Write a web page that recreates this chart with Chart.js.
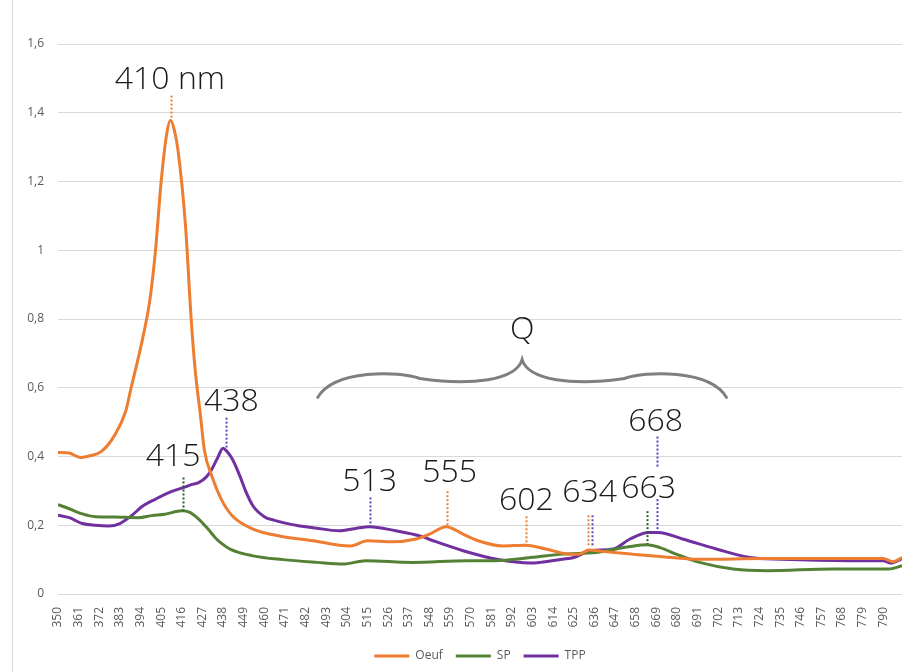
<!DOCTYPE html>
<html>
<head>
<meta charset="utf-8">
<script src="https://cdn.jsdelivr.net/npm/chart.js@4.4.1/dist/chart.umd.min.js"></script>
<style>
  html, body { margin: 0; padding: 0; background: #fff; }
  #wrap { width: 902px; height: 672px; position: relative; }
</style>
</head>
<body>
<div id="wrap"><canvas id="c"></canvas></div>
<script>
// wavelength (nm) shown on the category axis
const xTicks = [350, 361, 372, 383, 394, 405, 416, 427, 438, 449, 460, 471, 482, 493, 504,
  515, 526, 537, 548, 559, 570, 581, 592, 603, 614, 625, 636, 647, 658, 669, 680, 691,
  702, 713, 724, 735, 746, 757, 768, 779, 790];
const yTicks = [0, 0.2, 0.4, 0.6, 0.8, 1, 1.2, 1.4, 1.6];

// Oeuf
const oeufNm  = [350, 356, 362, 367, 373, 380, 386, 389, 395, 399, 402, 405, 408, 410, 412, 414, 418, 421, 423, 426, 428, 432, 437, 443, 454, 468, 486, 500, 506, 515, 528, 541, 548, 557, 566, 574, 587, 599, 610, 623, 628, 633, 640, 656, 671, 692, 728, 763, 790, 795, 800];
const oeufAbs = [0.412, 0.410, 0.397, 0.402, 0.414, 0.460, 0.530, 0.600, 0.740, 0.856, 1.000, 1.200, 1.340, 1.378, 1.350, 1.290, 1.070, 0.800, 0.660, 0.517, 0.420, 0.343, 0.276, 0.227, 0.189, 0.169, 0.155, 0.142, 0.140, 0.155, 0.152, 0.160, 0.174, 0.196, 0.174, 0.155, 0.140, 0.142, 0.131, 0.116, 0.116, 0.128, 0.124, 0.116, 0.109, 0.101, 0.103, 0.103, 0.103, 0.094, 0.106];

// SP
const spNm  = [350, 356, 363, 370, 380, 393, 400, 407, 416, 420, 425, 430, 434, 437, 442, 454, 470, 488, 502, 514, 539, 568, 583, 602, 619, 637, 655, 664, 671, 680, 692, 710, 728, 763, 793, 800];
const spAbs = [0.260, 0.248, 0.233, 0.225, 0.224, 0.222, 0.228, 0.232, 0.242, 0.238, 0.218, 0.189, 0.163, 0.148, 0.130, 0.111, 0.100, 0.092, 0.087, 0.097, 0.092, 0.097, 0.097, 0.106, 0.116, 0.121, 0.138, 0.143, 0.135, 0.115, 0.092, 0.073, 0.068, 0.073, 0.073, 0.082];

// TPP
const tppNm  = [350, 356, 363, 370, 377, 383, 389, 395, 402, 410, 417, 421, 425, 429, 432, 435, 438, 440, 443, 447, 450, 454, 460, 465, 479, 486, 500, 508, 516, 530, 543, 550, 566, 584, 602, 607, 619, 625, 634, 646, 655, 665, 670, 683, 701, 719, 736, 772, 790, 794, 800];
const tppAbs = [0.229, 0.222, 0.205, 0.200, 0.198, 0.205, 0.227, 0.255, 0.276, 0.297, 0.310, 0.318, 0.324, 0.340, 0.363, 0.395, 0.424, 0.415, 0.392, 0.343, 0.300, 0.256, 0.225, 0.215, 0.198, 0.193, 0.184, 0.190, 0.196, 0.184, 0.169, 0.155, 0.126, 0.101, 0.090, 0.092, 0.101, 0.106, 0.126, 0.131, 0.160, 0.179, 0.179, 0.160, 0.131, 0.106, 0.101, 0.097, 0.097, 0.090, 0.103];

// peak annotations (text centre in data units)
const peakText = ['410 nm', '415', '438', '513', '555', '602', '634', '663', '668'];
const peakTextNm = [409.7, 411.4, 442.5, 516.1, 558.8, 599.7, 633.4, 664.9, 668.6];
const peakTextAbs = [1.503, 0.406, 0.566, 0.334, 0.358, 0.277, 0.302, 0.313, 0.508];

// dotted markers: wavelength, top, bottom, series
const markNm     = [410.2, 416.6, 439.5, 516.2, 557.2, 599.3, 632.4, 634.5, 664.3, 669.6, 669.6];
const markTop    = [1.450, 0.339, 0.513, 0.281, 0.299, 0.226, 0.229, 0.229, 0.241, 0.276, 0.458];
const markBottom = [1.384, 0.241, 0.426, 0.197, 0.197, 0.142, 0.136, 0.136, 0.145, 0.180, 0.368];
const markSeries = ['Oeuf', 'SP', 'TPP', 'TPP', 'Oeuf', 'Oeuf', 'Oeuf', 'TPP', 'SP', 'TPP', 'TPP'];

// Q band brace
const braceLabel = 'Q';
const braceFromNm = 488.5, braceToNm = 706.4, braceBase = 0.572, braceTip = 0.682, braceLabelAbs = 0.775;

const colors = { Oeuf: '#ED7D31', SP: '#548235', TPP: '#7030A0' };
const markColors = { Oeuf: '#ED7D31', SP: '#1f5f2a', TPP: '#5346c8' };

const pts = (xs, ys) => xs.map((x, i) => ({ x: x, y: ys[i] }));
const fmt = v => String(Math.round(v * 10) / 10).replace('.', ',');

const frame = {
  id: 'frame',
  beforeDraw(chart) {
    const ctx = chart.ctx;
    ctx.save();
    ctx.strokeStyle = '#d9d9d9'; ctx.lineWidth = 1;
    ctx.beginPath(); ctx.moveTo(12.5, 0); ctx.lineTo(12.5, chart.height); ctx.stroke();
    ctx.restore();
  }
};

const notes = {
  id: 'notes',
  afterDatasetsDraw(chart) {
    const ctx = chart.ctx, xs = chart.scales.x, ys = chart.scales.y;
    ctx.save();
    // dotted lines
    ctx.lineWidth = 2;
    ctx.setLineDash([2, 2]);
    markNm.forEach((nm, i) => {
      const x = Math.round(xs.getPixelForValue(nm)) + 0.5;
      ctx.strokeStyle = markColors[markSeries[i]];
      ctx.beginPath();
      ctx.moveTo(x, ys.getPixelForValue(markTop[i]));
      ctx.lineTo(x, ys.getPixelForValue(markBottom[i]));
      ctx.stroke();
    });
    ctx.setLineDash([]);
    // labels
    const size = 32;
    ctx.font = '300 ' + size + 'px "Open Sans"';
    ctx.fillStyle = '#1a1a1a';
    ctx.textAlign = 'center';
    ctx.textBaseline = 'alphabetic';
    peakText.forEach((t, i) => {
      ctx.fillText(t, xs.getPixelForValue(peakTextNm[i]), ys.getPixelForValue(peakTextAbs[i]) + size * 0.36);
    });
    ctx.fillText(braceLabel, xs.getPixelForValue((braceFromNm + braceToNm) / 2), ys.getPixelForValue(braceLabelAbs) + size * 0.36);
    // brace
    const x0 = xs.getPixelForValue(braceFromNm), x1 = xs.getPixelForValue(braceToNm);
    const xm = (x0 + x1) / 2, w = (x1 - x0) / 2;
    const yb = ys.getPixelForValue(braceBase), yt = ys.getPixelForValue(braceTip);
    const h = yb - yt;
    const ya = yb - h * 0.5;
    ctx.strokeStyle = '#7f7f7f'; ctx.lineWidth = 3; ctx.lineCap = 'round';
    ctx.beginPath();
    ctx.moveTo(x0, yb);
    ctx.bezierCurveTo(x0 + w * 0.08, yb - h * 0.75, x0 + w * 0.4, yb - h * 0.7, x0 + w * 0.5, ya);
    ctx.bezierCurveTo(x0 + w * 0.75, ya + h * 0.2, x0 + w * 0.97, ya + h * 0.05, xm, yt);
    ctx.bezierCurveTo(x1 - w * 0.97, ya + h * 0.05, x1 - w * 0.75, ya + h * 0.2, x1 - w * 0.5, ya);
    ctx.bezierCurveTo(x1 - w * 0.4, yb - h * 0.7, x1 - w * 0.08, yb - h * 0.75, x1, yb);
    ctx.stroke();
    ctx.restore();
  }
};

const line = (label, data) => ({
  label: label, data: data, borderColor: colors[label], backgroundColor: colors[label],
  borderWidth: 3, pointRadius: 0, cubicInterpolationMode: 'monotone', fill: false
});

new Chart(document.getElementById('c'), {
  type: 'line',
  data: {
    datasets: [
      line('Oeuf', pts(oeufNm, oeufAbs)),
      line('SP', pts(spNm, spAbs)),
      line('TPP', pts(tppNm, tppAbs))
    ]
  },
  options: {
    responsive: true, maintainAspectRatio: false, animation: false,
    layout: { padding: { left: 0, right: 0, top: 44, bottom: 0 } },
    plugins: {
      legend: {
        position: 'bottom', fullSize: false,
        labels: {
          usePointStyle: true, pointStyle: 'line', pointStyleWidth: 35,
          color: '#595959', font: { family: '"Open Sans"', size: 12 }, padding: 13
        }
      },
      tooltip: { enabled: false }
    },
    scales: {
      x: {
        type: 'linear', min: 350, max: 800,
        afterBuildTicks: s => { s.ticks = xTicks.map(v => ({ value: v })); },
        afterFit: s => { s.height = 43; s.paddingLeft = 0; s.paddingRight = 0; },
        grid: { display: false, drawTicks: false },
        border: { display: false },
        ticks: {
          autoSkip: false, maxRotation: 90, minRotation: 90, padding: 13,
          color: '#595959', font: { family: '"Open Sans"', size: 12 },
          callback: v => String(v)
        }
      },
      y: {
        min: 0, max: 1.6,
        afterBuildTicks: s => { s.ticks = yTicks.map(v => ({ value: v })); },
        afterFit: s => { s.width = 58; },
        grid: { color: '#d9d9d9', lineWidth: 1, drawTicks: false },
        border: { display: false },
        ticks: {
          padding: 14, color: '#595959', font: { family: '"Open Sans"', size: 12 },
          callback: v => fmt(v)
        }
      }
    }
  },
  plugins: [frame, notes]
});
</script>
</body>
</html>
